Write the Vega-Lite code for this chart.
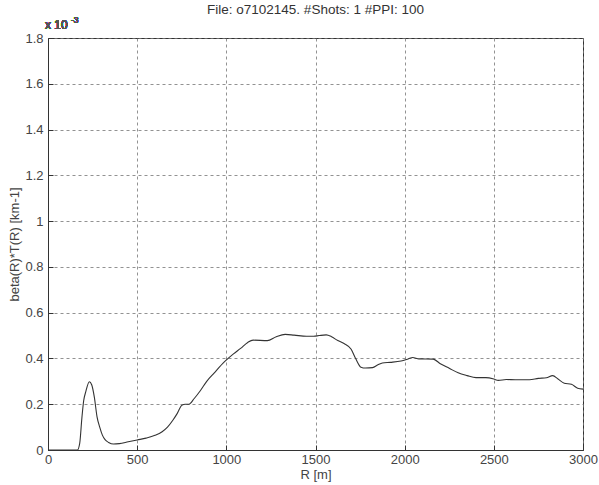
{
  "$schema": "https://vega.github.io/schema/vega-lite/v6.json",
  "width": 535,
  "height": 412,
  "autosize": "none",
  "padding": {"left": 48, "top": 38, "right": 16, "bottom": 35},
  "background": "white",
  "title": {
    "text": "File: o7102145. #Shots: 1 #PPI: 100",
    "font": "Liberation Sans",
    "fontSize": 13.5,
    "fontWeight": "normal",
    "color": "#333",
    "offset": 0
  },
  "config": {
    "view": {"stroke": "#333", "strokeWidth": 1},
    "axis": {
      "labelFont": "Liberation Sans",
      "labelFontSize": 13,
      "labelColor": "#444",
      "labelFlush": false,
      "titleFont": "Liberation Sans",
      "titleFontSize": 13,
      "titleFontWeight": "normal",
      "titleColor": "#444",
      "domainColor": "#333",
      "tickColor": "#333",
      "tickSize": -5,
      "grid": true,
      "gridColor": "#777",
      "gridDash": [3, 3],
      "gridOpacity": 0.8
    }
  },
  "data": {
    "values": [
      {"R": 0, "beta": 0}, {"R": 165, "beta": 0}, {"R": 178, "beta": 0.03},
      {"R": 190, "beta": 0.14}, {"R": 200, "beta": 0.215}, {"R": 212, "beta": 0.255},
      {"R": 232, "beta": 0.298}, {"R": 245, "beta": 0.285}, {"R": 260, "beta": 0.23},
      {"R": 275, "beta": 0.145}, {"R": 290, "beta": 0.1}, {"R": 305, "beta": 0.065},
      {"R": 320, "beta": 0.045}, {"R": 340, "beta": 0.033}, {"R": 367, "beta": 0.026},
      {"R": 400, "beta": 0.028}, {"R": 450, "beta": 0.036}, {"R": 500, "beta": 0.044},
      {"R": 550, "beta": 0.052}, {"R": 600, "beta": 0.064}, {"R": 640, "beta": 0.08},
      {"R": 670, "beta": 0.1}, {"R": 700, "beta": 0.13}, {"R": 725, "beta": 0.16},
      {"R": 750, "beta": 0.195}, {"R": 770, "beta": 0.2}, {"R": 790, "beta": 0.2},
      {"R": 820, "beta": 0.225}, {"R": 855, "beta": 0.26}, {"R": 890, "beta": 0.3},
      {"R": 930, "beta": 0.335}, {"R": 990, "beta": 0.386}, {"R": 1040, "beta": 0.42},
      {"R": 1080, "beta": 0.444}, {"R": 1120, "beta": 0.47}, {"R": 1150, "beta": 0.48},
      {"R": 1230, "beta": 0.478}, {"R": 1280, "beta": 0.495}, {"R": 1330, "beta": 0.505},
      {"R": 1380, "beta": 0.502}, {"R": 1450, "beta": 0.497}, {"R": 1490, "beta": 0.497},
      {"R": 1520, "beta": 0.5}, {"R": 1560, "beta": 0.503}, {"R": 1590, "beta": 0.495},
      {"R": 1625, "beta": 0.478}, {"R": 1660, "beta": 0.465}, {"R": 1700, "beta": 0.44},
      {"R": 1725, "beta": 0.4}, {"R": 1755, "beta": 0.362}, {"R": 1780, "beta": 0.358},
      {"R": 1820, "beta": 0.36}, {"R": 1850, "beta": 0.372}, {"R": 1875, "beta": 0.38},
      {"R": 1920, "beta": 0.383}, {"R": 1980, "beta": 0.389}, {"R": 2020, "beta": 0.398},
      {"R": 2045, "beta": 0.404}, {"R": 2080, "beta": 0.398}, {"R": 2160, "beta": 0.397},
      {"R": 2200, "beta": 0.377}, {"R": 2250, "beta": 0.357}, {"R": 2300, "beta": 0.337},
      {"R": 2350, "beta": 0.325}, {"R": 2400, "beta": 0.316}, {"R": 2455, "beta": 0.316},
      {"R": 2500, "beta": 0.31}, {"R": 2525, "beta": 0.304}, {"R": 2570, "beta": 0.308},
      {"R": 2620, "beta": 0.307}, {"R": 2700, "beta": 0.307}, {"R": 2750, "beta": 0.313},
      {"R": 2795, "beta": 0.316}, {"R": 2830, "beta": 0.325}, {"R": 2860, "beta": 0.31},
      {"R": 2895, "beta": 0.292}, {"R": 2935, "beta": 0.287}, {"R": 2970, "beta": 0.27},
      {"R": 3000, "beta": 0.266}
    ]
  },
  "layer": [
    {
      "mark": {"type": "line", "color": "#333", "strokeWidth": 1.1, "interpolate": "monotone"},
      "encoding": {
        "x": {
          "field": "R", "type": "quantitative",
          "scale": {"domain": [0, 3000], "nice": false},
          "axis": {"title": "R [m]", "values": [0, 500, 1000, 1500, 2000, 2500, 3000], "format": "d", "labelPadding": 8, "titlePadding": 2}
        },
        "y": {
          "field": "beta", "type": "quantitative",
          "scale": {"domain": [0, 1.8], "nice": false},
          "axis": {"title": "beta(R)*T(R) [km-1]", "values": [0, 0.2, 0.4, 0.6, 0.8, 1, 1.2, 1.4, 1.6, 1.8], "format": "~g", "labelPadding": 10, "titlePadding": 3}
        }
      }
    },
    {
      "mark": {"type": "text", "text": "x 10", "font": "Liberation Sans", "fontSize": 12, "color": "#555", "align": "left", "baseline": "bottom", "dx": -3, "dy": -6},
      "encoding": {"x": {"datum": 0}, "y": {"datum": 1.8}}
    },
    {
      "mark": {"type": "text", "text": "-3", "font": "Liberation Sans", "fontSize": 8.5, "color": "#555", "align": "left", "baseline": "bottom", "dx": 23, "dy": -13},
      "encoding": {"x": {"datum": 0}, "y": {"datum": 1.8}}
    }
  ]
}
